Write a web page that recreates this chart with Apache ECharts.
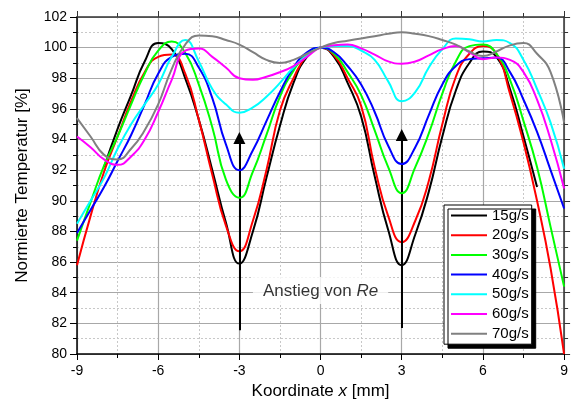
<!DOCTYPE html>
<html><head><meta charset="utf-8">
<script src="https://cdn.jsdelivr.net/npm/echarts@6/dist/echarts.min.js"></script>
<style>html,body{margin:0;padding:0;background:#fff}#c{width:571px;height:405px}</style>
</head><body><div id="c"></div>
<script>
const xs = [-9,-8.5,-8,-7.5,-7,-6.5,-6,-5.5,-5,-4.5,-4,-3.5,-3,-2.5,-2,-1.5,-1,-0.5,0,0.5,1,1.5,2,2.5,3,3.5,4,4.5,5,5.5,6,6.5,7,7.5,8,8.5,9];
const names = ['15g/s','20g/s','30g/s','40g/s','50g/s','60g/s','70g/s'];
const v15 = [null,null,92.2,94.7,96.9,99.1,100.3,99.9,98.0,95.3,92.0,88.6,85.9,88.0,91.5,94.9,97.7,99.4,100,99.4,97.7,95.5,91.6,88.1,85.8,87.8,90.6,94.2,97.2,99.0,99.75,99.4,97.3,94.2,90.9,null,null];
const v20 = [85.8,89.0,91.9,94.2,96.5,98.4,99.4,99.55,98.3,95.3,91.7,88.4,86.7,88.7,92.0,95.9,98.0,99.5,100,99.5,98.0,96.2,92.2,89.0,87.3,88.7,91.3,95.0,98.1,99.6,100.1,99.6,97.0,93.8,90.0,85.6,80.0];
const v30 = [87.4,89.9,92.3,94.2,96.3,98.3,99.8,100.4,99.65,97.6,94.8,91.4,90.2,91.9,94.3,96.8,98.5,99.6,100,99.6,98.4,96.9,94.6,92.2,90.5,92.2,94.4,97.0,99.1,100.1,100.2,99.6,97.9,95.2,92.2,88.3,84.4];
const v40 = [87.9,89.4,90.9,92.6,94.3,96.3,98.3,99.4,99.6,98.7,96.7,93.7,92.0,93.3,95.2,97.1,98.7,99.7,100,99.7,98.8,97.6,95.8,93.6,92.4,93.5,95.6,97.6,98.8,99.25,99.3,99.35,98.4,96.6,94.5,92.0,89.5];
const v50 = [88.5,90.0,91.5,93.4,95.0,96.3,97.6,99.4,100.5,99.1,97.3,96.3,95.75,96.1,96.8,97.7,98.7,99.5,100,100.1,100.1,99.8,99.2,97.8,96.5,97.1,98.7,99.9,100.6,100.55,100.4,100.5,100.3,99.2,97.3,95.1,92.1];
const v60 = [94.2,93.5,92.7,92.35,92.9,94.0,95.8,97.9,99.8,99.95,99.4,98.7,98.0,97.9,98.1,98.4,98.8,99.4,100,100.15,100.2,99.95,99.55,99.1,98.95,99.1,99.5,99.9,100.1,99.7,99.25,99.35,99.2,98.4,96.6,94.0,90.8];
const v70 = [95.4,94.2,93.0,92.7,93.4,94.6,96.3,98.6,100.2,100.8,100.75,100.5,100.2,99.7,99.2,99.0,99.2,99.6,100,100.3,100.45,100.6,100.75,100.9,101.0,100.9,100.75,100.5,100.2,99.75,99.45,99.75,100.15,100.3,99.6,98.4,95.1];
const colors = ['#000000','#ff0000','#00ff00','#0000ff','#00ffff','#ff00ff','#808080'];
const arrowLeft = [[-3,81.55],[-3,94.1]];
const arrowRight = [[3,81.7],[3,94.3]];
const annotPos = [0,84.15];
const allVals = [v15,v20,v30,v40,v50,v60,v70];

const FONT = 'Liberation Sans, Arial, sans-serif';
function pairs(vals){ const out=[]; xs.forEach((x,i)=>{ if(vals[i]!=null) out.push([x,vals[i]]); }); return out; }

const series = names.map((n,i)=>({
  name:n, type:'line', data:pairs(allVals[i]), smooth:0.5, symbol:'none',
  lineStyle:{color:colors[i], width:2}, itemStyle:{color:colors[i]}, z:3+i
}));
series.push({
  name:'arrows', type:'line', data:[], symbol:'none',
  itemStyle:{color:'#000'},
  markLine:{ silent:true, symbol:['none','triangle'], symbolSize:12, label:{show:false},
    itemStyle:{color:'#000'},
    lineStyle:{color:'#000', width:2, type:'solid'},
    data:[ [{coord:arrowLeft[0]},{coord:arrowLeft[1]}], [{coord:arrowRight[0]},{coord:arrowRight[1]}] ] },
  z:20
});
series.push({
  name:'annot', type:'scatter', data:[annotPos], symbolSize:1, itemStyle:{color:'rgba(0,0,0,0)'}, z:15,
  label:{show:true, position:'inside', formatter:'{a|Anstieg von }{b|Re}', backgroundColor:'#fff', padding:[6,10,4,10],
    rich:{a:{fontSize:17,fontFamily:FONT,color:'#000'}, b:{fontSize:17,fontFamily:FONT,fontStyle:'italic',color:'#000'}}}
});

const chart = echarts.init(document.getElementById('c'), null, {renderer:'canvas'});
chart.setOption({
  animation:false,
  backgroundColor:'#fff',
  grid:{left:77,right:6,top:17,bottom:49},
  legend:{
    data:names, orient:'vertical', left:444, top:205, icon:'rect', itemWidth:36, itemHeight:2, itemGap:4.7,
    padding:[3,3,3,7], backgroundColor:'#fff', borderColor:'#000', borderWidth:1,
    shadowColor:'#000', shadowBlur:0, shadowOffsetX:4, shadowOffsetY:4,
    textStyle:{fontSize:15, fontFamily:FONT, color:'#000', lineHeight:15}
  },
  xAxis:[{
    type:'value', min:-9, max:9, interval:3, position:'bottom',
    axisLine:{show:true, lineStyle:{color:'#000', width:1.5}},
    axisTick:{show:true, inside:false, length:6, lineStyle:{color:'#000'}},
    minorTick:{show:true, splitNumber:2, length:4, lineStyle:{color:'#000'}},
    splitLine:{show:true, lineStyle:{color:'#a8a8a8', width:1.2}},
    minorSplitLine:{show:true, lineStyle:{color:'#c8c8c8', width:1, type:[2,2]}},
    axisLabel:{fontSize:14, fontFamily:FONT, color:'#000', margin:10},
    name:'{n|Koordinate }{i|x}{n| [mm]}', nameLocation:'middle', nameGap:29,
    nameTextStyle:{rich:{n:{fontSize:17,fontFamily:FONT,color:'#000'}, i:{fontSize:17,fontFamily:FONT,fontStyle:'italic',color:'#000'}}}
  },{
    type:'value', min:-9, max:9, interval:3, position:'top',
    axisLine:{show:true, onZero:false, lineStyle:{color:'#333', width:1.5}},
    axisTick:{show:true, inside:false, length:6, lineStyle:{color:'#333'}},
    minorTick:{show:true, splitNumber:2, length:4, lineStyle:{color:'#333'}},
    splitLine:{show:false}, axisLabel:{show:false}
  }],
  yAxis:[{
    type:'value', min:80, max:102, interval:2, position:'left',
    axisLine:{show:true, onZero:false, lineStyle:{color:'#000', width:1.5}},
    axisTick:{show:true, inside:false, length:7, lineStyle:{color:'#000'}},
    minorTick:{show:true, splitNumber:2, length:4, lineStyle:{color:'#000'}},
    splitLine:{show:true, lineStyle:{color:'#a8a8a8', width:1.2}},
    minorSplitLine:{show:true, lineStyle:{color:'#c8c8c8', width:1, type:[2,2]}},
    axisLabel:{fontSize:14, fontFamily:FONT, color:'#000', margin:10},
    name:'Normierte Temperatur [%]', nameLocation:'middle', nameGap:46,
    nameTextStyle:{fontSize:17, fontFamily:FONT, color:'#000'}
  },{
    type:'value', min:80, max:102, interval:2, position:'right',
    axisLine:{show:true, onZero:false, lineStyle:{color:'#333', width:1.5}},
    axisTick:{show:true, inside:false, length:6, lineStyle:{color:'#333'}},
    minorTick:{show:true, splitNumber:2, length:4, lineStyle:{color:'#333'}},
    splitLine:{show:false}, axisLabel:{show:false}
  }],
  series:series
});
</script></body></html>
